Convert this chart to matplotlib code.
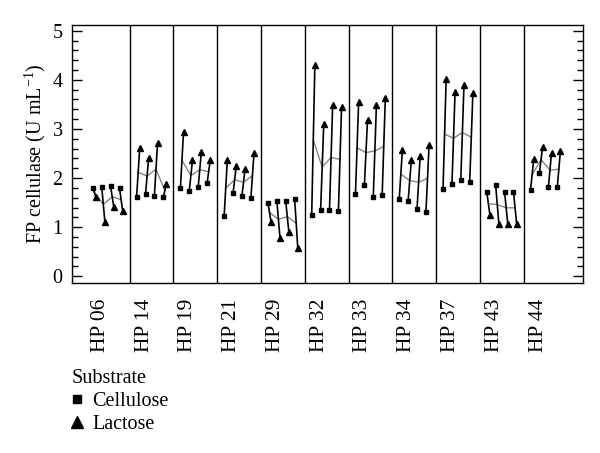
import matplotlib
matplotlib.use('Agg')
import matplotlib.pyplot as plt
from matplotlib.lines import Line2D
from matplotlib.ticker import MultipleLocator

plt.rcParams['font.family'] = ['Liberation Serif', 'DejaVu Serif']
plt.rcParams['mathtext.fontset'] = 'custom'
plt.rcParams['mathtext.rm'] = 'Liberation Serif'
plt.rcParams['mathtext.it'] = 'Liberation Serif:italic'

isolates = ['HP 06', 'HP 14', 'HP 19', 'HP 21', 'HP 29', 'HP 32',
            'HP 33', 'HP 34', 'HP 37', 'HP 43', 'HP 44']

cellulose = [
    [1.80, 1.82, 1.83, 1.79],
    [1.62, 1.67, 1.64, 1.62],
    [1.79, 1.74, 1.81, 1.89],
    [1.23, 1.69, 1.64, 1.59],
    [1.50, 1.54, 1.53, 1.58],
    [1.24, 1.34, 1.35, 1.32],
    [1.68, 1.85, 1.61, 1.66],
    [1.58, 1.54, 1.38, 1.31],
    [1.77, 1.87, 1.97, 1.93],
    [1.72, 1.85, 1.72, 1.72],
    [1.76, 2.11, 1.81, 1.81],
]

lactose = [
    [1.61, 1.11, 1.41, 1.33],
    [2.62, 2.41, 2.72, 1.87],
    [2.94, 2.36, 2.53, 2.37],
    [2.36, 2.24, 2.19, 2.51],
    [1.10, 0.78, 0.90, 0.58],
    [4.30, 3.11, 3.49, 3.44],
    [3.55, 3.19, 3.49, 3.63],
    [2.58, 2.36, 2.45, 2.68],
    [4.02, 3.75, 3.89, 3.73],
    [1.24, 1.07, 1.07, 1.07],
    [2.38, 2.64, 2.51, 2.55],
]

y_ticks = [0, 1, 2, 3, 4, 5]

fig = plt.figure(figsize=(6.0, 4.53), dpi=100)
ax = fig.add_axes([72.3 / 600, 1 - 283.3 / 453, (582.7 - 72.3) / 600, (283.3 - 25) / 453])

pair_off = [-0.305, -0.1015, 0.1015, 0.305]
dodge = 0.036

for i, name in enumerate(isolates):
    mx, my = [], []
    for j in range(4):
        xs = i + pair_off[j] - dodge
        xt = i + pair_off[j] + dodge
        c = cellulose[i][j]
        l = lactose[i][j]
        ax.plot([xs, xt], [c, l], color='black', lw=1.2, zorder=3, solid_capstyle='butt')
        ax.plot([xs], [c], marker='s', color='black', markersize=3.3, ls='none', zorder=4)
        ax.plot([xt], [l], marker='^', color='black', markersize=4.5, ls='none', zorder=4)
        mx.append((xs + xt) / 2)
        my.append((c + l) / 2)
    ax.plot(mx, my, color='#858585', lw=1.0, zorder=2)

for i in range(len(isolates) - 1):
    ax.axvline(i + 0.5, color='black', lw=1.0, zorder=1)

ax.set_xlim(-0.81, len(isolates) - 1 + 0.85)
ax.set_ylim(-0.142, 5.116)

ax.set_yticks(y_ticks)
ax.set_yticklabels([str(t) for t in y_ticks], fontsize=14.5)
ax.yaxis.set_minor_locator(MultipleLocator(0.2))
ax.tick_params(axis='y', which='both', direction='in', left=True, right=True, width=1.0, pad=7)
ax.tick_params(axis='y', which='major', length=7)
ax.tick_params(axis='y', which='minor', length=4)

ax.set_xticks([i - 0.17 for i in range(len(isolates))])
ax.set_xticklabels(isolates, rotation=90, fontsize=15.5)
ax.tick_params(axis='x', which='both', length=0, pad=11)

for s in ax.spines.values():
    s.set_linewidth(1.0)

ax.set_ylabel('FP cellulase (U mL$^{-1}$)', fontsize=14.5, labelpad=3)

handles = [
    Line2D([], [], marker='s', color='black', ls='none', markersize=6, label='Cellulose'),
    Line2D([], [], marker='^', color='black', ls='none', markersize=8, label='Lactose'),
]
fig.legend(handles=handles, title='Substrate', loc='upper left',
           bbox_to_anchor=(72 / 600, 1 - 369 / 453), frameon=False,
           alignment='left', prop={'size': 14.5}, title_fontsize=14.5,
           handlelength=0.5, handletextpad=0.5, labelspacing=0.2,
           borderpad=0, borderaxespad=0)

fig.savefig('out.png', dpi=100)
